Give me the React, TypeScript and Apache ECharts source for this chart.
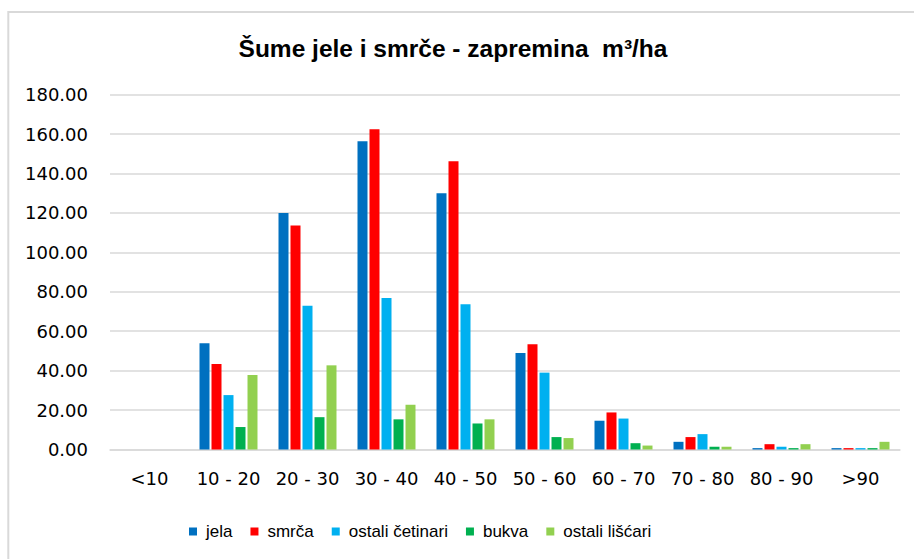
import React, { useEffect, useRef } from "react";
import * as echarts from "echarts";

const categories = ["<10", "10 - 20", "20 - 30", "30 - 40", "40 - 50", "50 - 60", "60 - 70", "70 - 80", "80 - 90", ">90"];
const jela = [0, 53.9, 120.0, 156.4, 130.0, 49.0, 14.6, 3.9, 0.7, 0.7];
const smrca = [0, 43.4, 113.7, 162.5, 146.2, 53.4, 18.8, 6.3, 2.7, 0.7];
const ostaliCetinari = [0, 27.6, 72.9, 76.8, 73.7, 39.0, 15.7, 7.8, 1.4, 0.7];
const bukva = [0, 11.4, 16.4, 15.3, 13.2, 6.3, 3.2, 1.4, 0.7, 0.7];
const ostaliLiscari = [0, 37.8, 42.7, 22.7, 15.3, 5.8, 2.0, 1.4, 2.7, 3.9];
const yTicks = { min: 0, max: 180, interval: 20 };

const seriesDefs = [
  { name: "jela", data: jela, color: "#0070C0" },
  { name: "smrča", data: smrca, color: "#FF0000" },
  { name: "ostali četinari", data: ostaliCetinari, color: "#00B0F0" },
  { name: "bukva", data: bukva, color: "#00B050" },
  { name: "ostali lišćari", data: ostaliLiscari, color: "#92D050" },
];

export default function App() {
  const ref = useRef<HTMLDivElement>(null);
  useEffect(() => {
    if (!ref.current) return;
    const chart = echarts.init(ref.current, undefined, { renderer: "svg" });
    chart.setOption({
      animation: false,
      backgroundColor: "#ffffff",
      title: {
        text: "Šume jele i smrče - zapremina  m³/ha",
        left: 448,
        textAlign: "center",
        top: 31,
        textStyle: { fontFamily: "Liberation Sans", fontWeight: "bold", fontSize: 24.5, color: "#000" },
      },
      graphic: [
        {
          type: "rect",
          shape: { x: 8.3, y: 12, width: 1000, height: 1000 },
          style: { fill: "none", stroke: "#d9d9d9", lineWidth: 2 },
          silent: true,
        },
      ],
      legend: {
        top: 518,
        left: 184,
        icon: "rect",
        itemWidth: 8,
        itemHeight: 8,
        itemGap: 18,
        textStyle: { fontFamily: "Liberation Sans", fontSize: 17, color: "#000", padding: [0, 0, 0, 4] },
        data: seriesDefs.map((s) => s.name),
      },
      grid: { left: 110, right: 14, top: 94.7, bottom: 559 - 449.5, containLabel: false },
      xAxis: {
        type: "category",
        data: categories,
        axisLine: { lineStyle: { color: "#d9d9d9", width: 1.5 } },
        axisTick: { show: false },
        axisLabel: { interval: 0, fontFamily: "DejaVu Sans", fontSize: 18, color: "#000", margin: 20 },
      },
      yAxis: {
        type: "value",
        min: yTicks.min,
        max: yTicks.max,
        interval: yTicks.interval,
        axisLine: { show: false },
        axisTick: { show: false },
        splitLine: { lineStyle: { color: "#d9d9d9", width: 1.5 } },
        axisLabel: {
          fontFamily: "DejaVu Sans",
          fontSize: 18,
          color: "#000",
          margin: 22,
          formatter: (v: number) => v.toFixed(2),
        },
      },
      series: seriesDefs.map((s) => ({
        name: s.name,
        type: "bar",
        data: s.data,
        barWidth: 10,
        barGap: "20%",
        itemStyle: { color: s.color },
      })),
    });
    return () => chart.dispose();
  }, []);
  return (
    <div
      ref={ref}
      style={{ position: "absolute", left: 0, top: 0, width: 914, height: 559 }}
    />
  );
}
